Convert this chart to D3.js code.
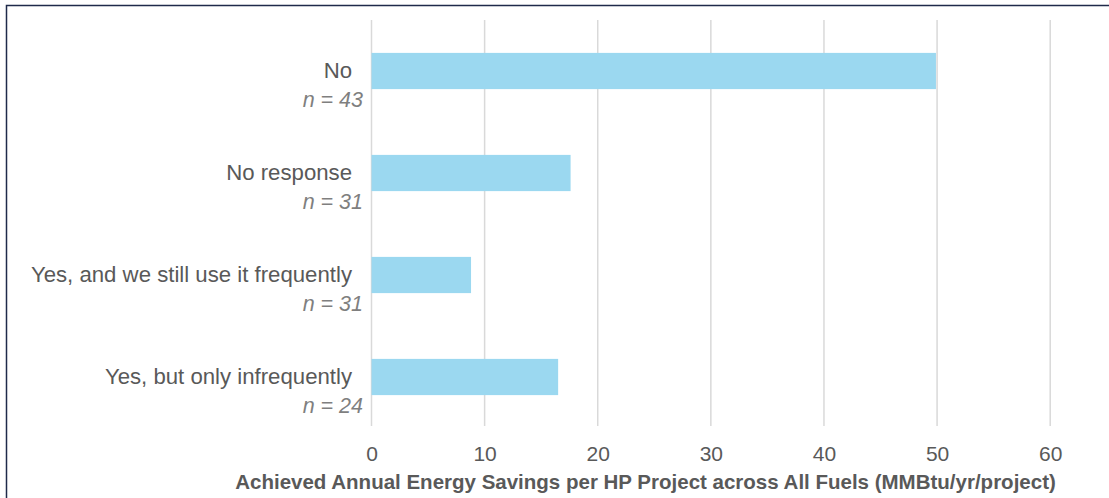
<!DOCTYPE html>
<html>
<head>
<meta charset="utf-8">
<script src="https://cdn.jsdelivr.net/npm/d3@7"></script>
<style>
  html, body { margin: 0; padding: 0; background: #fff; }
  svg { display: block; font-family: Arial, "Liberation Sans", sans-serif; }
</style>
</head>
<body>
<script>
// Survey responses and their sample sizes
const categories = ["No", "No response", "Yes, and we still use it frequently", "Yes, but only infrequently"];
const sampleSizes = [43, 31, 31, 24];
// Achieved annual energy savings (MMBtu/yr/project)
const savings = [49.9, 17.6, 8.8, 16.5];
const xTicks = [0, 10, 20, 30, 40, 50, 60];
const xTitle = "Achieved Annual Energy Savings per HP Project across All Fuels (MMBtu/yr/project)";

const W = 1109, H = 498;
const svg = d3.select("body").append("svg").attr("width", W).attr("height", H);

// Frame
svg.append("rect")
  .attr("x", 6.5).attr("y", 5.5)
  .attr("width", W + 20).attr("height", H + 20)
  .attr("fill", "none").attr("stroke", "#1f2a4a").attr("stroke-width", 1.5);

const m = { left: 371.5, right: 1050.2, top: 20, bottom: 428 };

const x = d3.scaleLinear().domain([0, 60]).range([m.left, m.right]);
const y = d3.scaleBand().domain(categories).range([m.top, m.bottom]).paddingInner(0.645).paddingOuter(0.3225);

// Vertical gridlines
svg.append("g").selectAll("line").data(xTicks).join("line")
  .attr("x1", d => x(d)).attr("x2", d => x(d))
  .attr("y1", 20).attr("y2", 426)
  .attr("stroke", "#d9d9d9").attr("stroke-width", 1.5);

// Bars
svg.append("g").selectAll("rect").data(categories).join("rect")
  .attr("x", x(0))
  .attr("y", d => y(d))
  .attr("width", (d, i) => x(savings[i]) - x(0))
  .attr("height", y.bandwidth())
  .attr("fill", "#9bd8f0");

// Category labels
const lab = svg.append("g");
lab.selectAll("text.cat").data(categories).join("text")
  .attr("class", "cat")
  .attr("x", 352)
  .attr("y", d => y(d) + y.bandwidth() / 2)
  .attr("dy", "0.32em")
  .attr("text-anchor", "end")
  .attr("font-size", 22.2)
  .attr("fill", "#595959")
  .text(d => d);

lab.selectAll("text.n").data(categories).join("text")
  .attr("class", "n")
  .attr("x", 363)
  .attr("y", d => y(d) + y.bandwidth() / 2 + 29)
  .attr("dy", "0.32em")
  .attr("text-anchor", "end")
  .attr("font-size", 21.5)
  .attr("font-style", "italic")
  .attr("fill", "#7f7f7f")
  .text((d, i) => "n = " + sampleSizes[i]);

// X axis tick labels
const axis = svg.append("g").attr("transform", `translate(0,${446})`)
  .call(d3.axisBottom(x).tickValues(xTicks).tickSize(0).tickPadding(0));
axis.select(".domain").remove();
axis.selectAll("text")
  .attr("font-size", 21)
  .attr("font-family", "Arial, 'Liberation Sans', sans-serif")
  .attr("fill", "#595959");

// Axis title
svg.append("text")
  .attr("x", 645.5).attr("y", 489)
  .attr("text-anchor", "middle")
  .attr("font-size", 20.5)
  .attr("font-weight", "bold")
  .attr("fill", "#595959")
  .text(xTitle);
</script>
</body>
</html>
